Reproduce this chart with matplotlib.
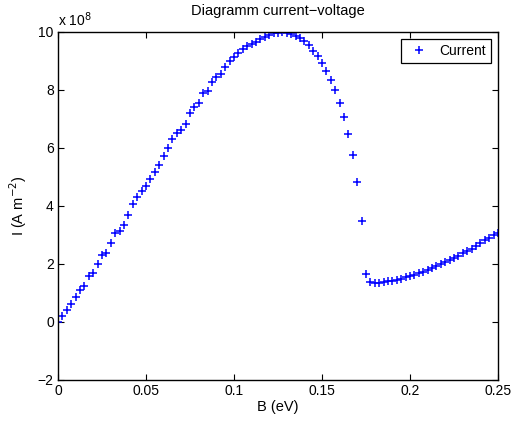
import matplotlib.pyplot as plt

plt.rcParams['font.family'] = ['Liberation Sans', 'DejaVu Sans']

# bias values (eV)
B = [0.0, 0.0025, 0.005, 0.0075, 0.01, 0.0125, 0.015, 0.0175, 0.02, 0.0225,
     0.025, 0.0275, 0.03, 0.0325, 0.035, 0.0375, 0.04, 0.0425, 0.045, 0.0475,
     0.05, 0.0525, 0.055, 0.0575, 0.06, 0.0625, 0.065, 0.0675, 0.07, 0.0725,
     0.075, 0.0775, 0.08, 0.0825, 0.085, 0.0875, 0.09, 0.0925, 0.095, 0.0975,
     0.1, 0.1025, 0.105, 0.1075, 0.11, 0.1125, 0.115, 0.1175, 0.12, 0.1225,
     0.125, 0.1275, 0.13, 0.1325, 0.135, 0.1375, 0.14, 0.1425, 0.145, 0.1475,
     0.15, 0.1525, 0.155, 0.1575, 0.16, 0.1625, 0.165, 0.1675, 0.17, 0.1725,
     0.175, 0.1775, 0.18, 0.1825, 0.185, 0.1875, 0.19, 0.1925, 0.195, 0.1975,
     0.2, 0.2025, 0.205, 0.2075, 0.21, 0.2125, 0.215, 0.2175, 0.22, 0.2225,
     0.225, 0.2275, 0.23, 0.2325, 0.235, 0.2375, 0.24, 0.2425, 0.245, 0.2475,
     0.25]

# current density, in units of 1e8 A m^-2
I = [0.00, 0.22, 0.42, 0.63, 0.85, 1.09, 1.25, 1.59, 1.68, 2.00,
     2.30, 2.38, 2.72, 3.06, 3.15, 3.35, 3.69, 4.06, 4.32, 4.52,
     4.70, 4.92, 5.16, 5.42, 5.71, 6.01, 6.32, 6.51, 6.63, 6.83,
     7.22, 7.40, 7.56, 7.89, 7.98, 8.27, 8.44, 8.55, 8.78, 8.99,
     9.14, 9.27, 9.41, 9.52, 9.59, 9.67, 9.77, 9.84, 9.90, 9.95,
     9.98, 9.99, 9.97, 9.93, 9.86, 9.79, 9.69, 9.55, 9.36, 9.16,
     8.94, 8.66, 8.35, 7.99, 7.56, 7.07, 6.47, 5.76, 4.83, 3.48,
     1.65, 1.39, 1.35, 1.36, 1.38, 1.40, 1.42, 1.46, 1.49, 1.54,
     1.59, 1.63, 1.68, 1.73, 1.79, 1.85, 1.92, 1.99, 2.06, 2.14,
     2.21, 2.29, 2.37, 2.45, 2.53, 2.63, 2.72, 2.82, 2.91, 3.00,
     3.08]

xticks = [0, 0.05, 0.1, 0.15, 0.2, 0.25]
xtick_labels = ['0', '0.05', '0.1', '0.15', '0.2', '0.25']
yticks = [-2, 0, 2, 4, 6, 8, 10]
ytick_labels = ['\u22122', '0', '2', '4', '6', '8', '10']

fig = plt.figure(figsize=(5.16, 4.21), dpi=100)
ax = fig.add_axes([0.1124, 0.0974, 0.8527, 0.8266])

ax.plot(B, I, '+', color='#0000ff', markersize=6, markeredgewidth=1.1, label='Current')

ax.set_xlim(0, 0.25)
ax.set_ylim(-2, 10)
ax.set_xticks(xticks)
ax.set_xticklabels(xtick_labels)
ax.set_yticks(yticks)
ax.set_yticklabels(ytick_labels)
ax.tick_params(direction='in', top=True, right=True, length=4, width=0.8,
               labelsize=10, pad=3)
for s in ax.spines.values():
    s.set_linewidth(1.0)

ax.text(0.0, 1.008, r'x 10$^{8}$', transform=ax.transAxes, fontsize=10,
        ha='left', va='bottom')

ax.set_title('Diagramm current\u2212voltage', fontsize=10.5, pad=12)
ax.set_xlabel('B (eV)', fontsize=10.5, labelpad=1)
ax.set_ylabel('I (A m$^{\u22122}$)', fontsize=10.5, labelpad=6)

leg = ax.legend(loc='upper right', fontsize=10, fancybox=False, framealpha=1,
                edgecolor='black', borderpad=0.35, handlelength=1.8,
                handletextpad=0.6, borderaxespad=0.5)
leg.get_frame().set_linewidth(0.9)

fig.savefig('out.png', dpi=100)
